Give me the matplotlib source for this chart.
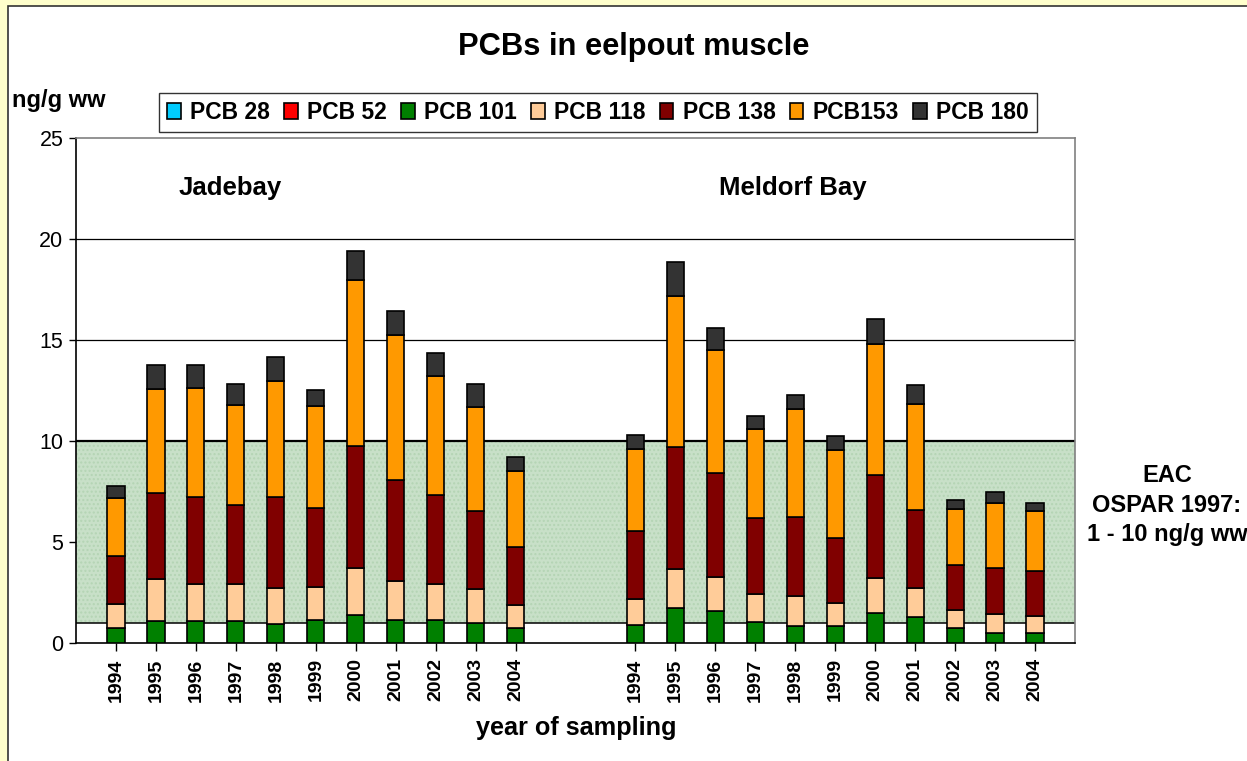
import numpy as np
import matplotlib
matplotlib.use("Agg")
import matplotlib.pyplot as plt
from matplotlib.patches import Rectangle

plt.rcParams['font.family'] = ['Liberation Sans', 'DejaVu Sans']

years = ['1994', '1995', '1996', '1997', '1998', '1999', '2000', '2001', '2002', '2003', '2004']
sites = ['Jadebay', 'Meldorf Bay']
series_names = ['PCB 28', 'PCB 52', 'PCB 101', 'PCB 118', 'PCB 138', 'PCB153', 'PCB 180']
colors = ['#00CCFF', '#FF0000', '#008000', '#FFCC99', '#800000', '#FF9900', '#333333']

# values: Jadebay 1994-2004, then Meldorf Bay 1994-2004
pcb28 = [0, 0, 0, 0, 0, 0, 0, 0, 0, 0, 0,
         0, 0, 0, 0, 0, 0, 0, 0, 0, 0, 0]
pcb52 = [0, 0, 0, 0, 0, 0, 0, 0, 0, 0, 0,
         0, 0, 0, 0, 0, 0, 0, 0, 0, 0, 0]
pcb101 = [0.73, 1.08, 1.08, 1.08, 0.94, 1.16, 1.39, 1.16, 1.16, 0.99, 0.73,
          0.91, 1.73, 1.60, 1.04, 0.83, 0.83, 1.50, 1.27, 0.73, 0.51, 0.51]
pcb118 = [1.21, 2.07, 1.85, 1.85, 1.76, 1.60, 2.30, 1.90, 1.77, 1.66, 1.14,
          1.28, 1.92, 1.67, 1.39, 1.51, 1.15, 1.73, 1.45, 0.92, 0.93, 0.83]
pcb138 = [2.38, 4.30, 4.31, 3.91, 4.54, 3.93, 6.08, 5.02, 4.39, 3.89, 2.90,
          3.37, 6.05, 5.13, 3.76, 3.90, 3.22, 5.07, 3.85, 2.23, 2.29, 2.22]
pcb153 = [2.88, 5.10, 5.39, 4.96, 5.72, 5.05, 8.19, 7.18, 5.89, 5.12, 3.76,
          4.04, 7.46, 6.10, 4.39, 5.34, 4.34, 6.49, 5.25, 2.75, 3.20, 2.96]
pcb180 = [0.55, 1.19, 1.11, 1.03, 1.20, 0.79, 1.46, 1.18, 1.14, 1.15, 0.69,
          0.71, 1.70, 1.08, 0.66, 0.71, 0.69, 1.25, 0.94, 0.47, 0.55, 0.43]
series = [pcb28, pcb52, pcb101, pcb118, pcb138, pcb153, pcb180]

eac_low, eac_high = 1, 10

fig = plt.figure(figsize=(12.47, 7.61), dpi=100)
fig.patch.set_facecolor('#FFFFCC')
fig.add_artist(Rectangle((8 / 1247, -0.05), 1.2, 1 - 6 / 761 + 0.05,
                         transform=fig.transFigure, facecolor='white',
                         edgecolor='#333333', linewidth=1.2, zorder=0))

ax = fig.add_axes([76 / 1247, 1 - 643 / 761, (1075 - 76) / 1247, (643 - 138) / 761])
ax.set_facecolor('white')

x = np.concatenate([np.arange(11), np.arange(13, 24)])
bottom = np.zeros(len(x))
handles = []
for name, vals, c in zip(series_names, series, colors):
    v = np.array(vals, dtype=float)
    b = ax.bar(x, v, width=0.43, bottom=bottom, color=c, edgecolor='black',
               linewidth=1.2, label=name, zorder=3)
    handles.append(b)
    bottom += v

ax.axhspan(eac_low, eac_high, facecolor='#C8E0C8', edgecolor='none', zorder=1)
ax.axhspan(eac_low, eac_high, facecolor='none', edgecolor='#B4D4B4', hatch='....',
           linewidth=0, zorder=1.1)
for yv in [15, 20]:
    ax.axhline(yv, color='black', linewidth=0.9, zorder=2)
ax.axhline(eac_high, color='black', linewidth=1.6, zorder=2)
ax.axhline(eac_low, color='black', linewidth=1.1, zorder=2)

ax.set_xlim(-1, 24)
ax.set_ylim(0, 25)
ax.set_yticks([0, 5, 10, 15, 20, 25])
ax.tick_params(axis='y', labelsize=15.5, length=5, width=1, direction='out', pad=4)
ax.set_xticks(x)
ax.set_xticklabels(years + years, rotation=90, fontweight='bold', fontsize=14)
ax.tick_params(axis='x', length=6, width=1, direction='out', pad=5)

for s in ['top', 'right']:
    ax.spines[s].set_color('#808080')
    ax.spines[s].set_linewidth(1.2)
for s in ['left', 'bottom']:
    ax.spines[s].set_color('black')
    ax.spines[s].set_linewidth(1.2)

fig.text(634 / 1247, 1 - 47 / 761, 'PCBs in eelpout muscle', ha='center', va='center',
         fontsize=22.2, fontweight='bold')
fig.text(12 / 1247, 1 - 100 / 761, 'ng/g ww', ha='left', va='center',
         fontsize=17, fontweight='bold')
ax.text(2.85, 22.5, sites[0], ha='center', va='center', fontsize=18.5, fontweight='bold')
ax.text(16.95, 22.5, sites[1], ha='center', va='center', fontsize=18.5, fontweight='bold')
fig.text(576 / 1247, 1 - 728 / 761, 'year of sampling', ha='center', va='center',
         fontsize=18.2, fontweight='bold')
fig.text(1167 / 1247, 1 - 505 / 761, 'EAC\nOSPAR 1997:\n1 - 10 ng/g ww', ha='center',
         va='center', fontsize=17, fontweight='bold', linespacing=1.35)

leg = fig.legend(handles=handles, labels=series_names, loc='center',
                 bbox_to_anchor=(598 / 1247, 1 - 112.5 / 761), ncol=7,
                 prop={'weight': 'bold', 'size': 16.5}, frameon=True, fancybox=False,
                 edgecolor='black', handlelength=0.6, handleheight=0.65,
                 handletextpad=0.4, columnspacing=0.62, borderpad=0.35)
leg.get_frame().set_linewidth(1.0)

fig.savefig('out.png', dpi=100, facecolor=fig.get_facecolor())
